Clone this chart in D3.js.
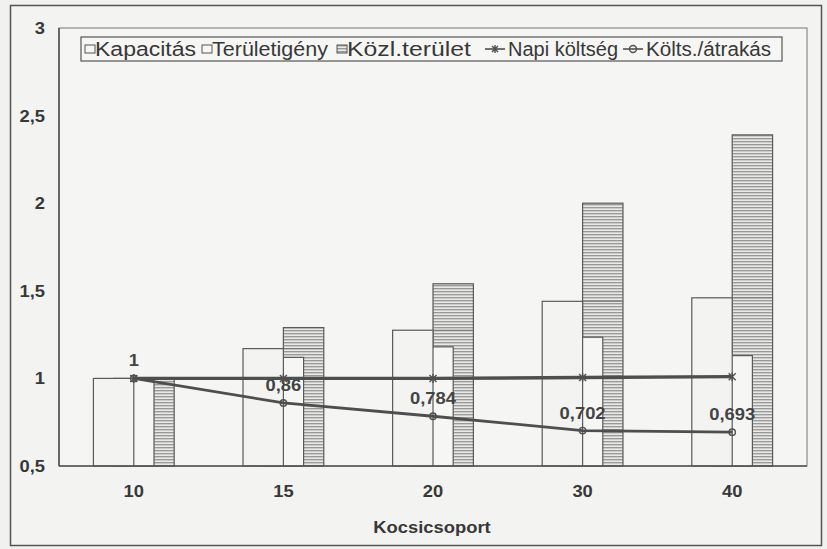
<!DOCTYPE html>
<html><head><meta charset="utf-8">
<script src="https://cdn.jsdelivr.net/npm/d3@7"></script>
<style>
html,body{margin:0;padding:0;background:#f1f1ef;}
svg{display:block;font-family:"Liberation Sans",Arial,sans-serif;}
</style></head>
<body>
<svg id="chart" width="827" height="549"></svg>
<script>
const categories = ["10", "15", "20", "30", "40"];
const kapacitas = [1, 1.17, 1.275, 1.44, 1.46];
const teruletigeny = [1, 1.12, 1.18, 1.235, 1.13];
const kozlTerulet = [1, 1.29, 1.54, 2.0, 2.39];
const napiKoltseg = [1, 1, 1, 1.005, 1.01];
const koltsAtrakas = [1, 0.86, 0.784, 0.702, 0.693];
const koltsLabels = ["1", "0,86", "0,784", "0,702", "0,693"];
const yTicks = [0.5, 1, 1.5, 2, 2.5, 3];
const yTickLabels = ["0,5", "1", "1,5", "2", "2,5", "3"];
const legendNames = ["Kapacitás", "Területigény", "Közl.terület", "Napi költség", "Költs./átrakás"];
const xTitle = "Kocsicsoport";

const svg = d3.select("#chart");
const plot = {left: 59, top: 28, right: 807, bottom: 466};
const txt = "#383838", barStroke = "#5a5a5a";

const defs = svg.append("defs");
const pat = defs.append("pattern").attr("id","hatch").attr("patternUnits","userSpaceOnUse")
  .attr("width", 8).attr("height", 3);
pat.append("rect").attr("width",8).attr("height",3).attr("fill","#e9e9e8");
pat.append("line").attr("x1",0).attr("x2",8).attr("y1",0.75).attr("y2",0.75)
  .attr("stroke","#858585").attr("stroke-width",1.1);

// outer frame
svg.append("rect").attr("x",10.5).attr("y",5.5).attr("width",811).attr("height",540)
  .attr("fill","#f3f3f1").attr("stroke","#555").attr("stroke-width",1.5);

const x = d3.scaleBand().domain(categories).range([plot.left, plot.right]).padding(0);
const y = d3.scaleLinear().domain([0.5, 3]).range([plot.bottom, plot.top]);
const bw = x.bandwidth();
const barW = bw * 0.27;
const cx = c => x(c) + bw / 2;

// plot area
svg.append("rect").attr("x",plot.left).attr("y",plot.top)
  .attr("width",plot.right-plot.left).attr("height",plot.bottom-plot.top)
  .attr("fill","#f5f5f3").attr("stroke","#777").attr("stroke-width",1);

// bars: Közl behind, then Területigény, then Kapacitás
const gBars = svg.append("g");
gBars.selectAll(".kozl").data(categories).join("rect")
  .attr("x", (c) => cx(c)).attr("width", barW)
  .attr("y", (c,i) => y(kozlTerulet[i])).attr("height", (c,i) => y(0.5) - y(kozlTerulet[i]))
  .attr("fill","url(#hatch)").attr("stroke",barStroke).attr("stroke-width",1.2);
gBars.selectAll(".kedge").data(categories).join("line")
  .attr("x1", c => cx(c)).attr("x2", c => cx(c) + barW)
  .attr("y1", (c,i) => y(kapacitas[i])).attr("y2", (c,i) => y(kapacitas[i]))
  .attr("stroke","#777").attr("stroke-width",1);
gBars.selectAll(".ter").data(categories).join("rect")
  .attr("x", c => cx(c) - barW/2).attr("width", barW)
  .attr("y", (c,i) => y(teruletigeny[i])).attr("height", (c,i) => y(0.5) - y(teruletigeny[i]))
  .attr("fill","#f6f6f5").attr("stroke",barStroke).attr("stroke-width",1.2);
gBars.selectAll(".kap").data(categories).join("rect")
  .attr("x", c => cx(c) - barW).attr("width", barW)
  .attr("y", (c,i) => y(kapacitas[i])).attr("height", (c,i) => y(0.5) - y(kapacitas[i]))
  .attr("fill","#f3f3f2").attr("stroke",barStroke).attr("stroke-width",1.2);

// lines
const line = d3.line().x(d => cx(d.c)).y(d => y(d.v));
const napiData = categories.map((c,i) => ({c, v: napiKoltseg[i]}));
const koltsData = categories.map((c,i) => ({c, v: koltsAtrakas[i]}));

// data labels (under the lines)
const stretchT = [];
svg.append("g").selectAll("text").data(koltsData).join("text")
  .attr("x", d => cx(d.c)).attr("y", d => y(d.v) - 12)
  .attr("text-anchor","middle").attr("font-size",17).attr("font-weight","bold")
  .attr("fill","#444").text((d,i) => koltsLabels[i])
  .each(function(){ stretchT.push(this); });

svg.append("path").datum(napiData).attr("d", line).attr("fill","none")
  .attr("stroke","#4e4e4e").attr("stroke-width",3.4);
svg.append("path").datum(koltsData).attr("d", line).attr("fill","none")
  .attr("stroke","#4e4e4e").attr("stroke-width",2.8);

function starMarker(g, px, py, s) {
  g.append("path").attr("d",`M${px-s},${py-s}L${px+s},${py+s}M${px-s},${py+s}L${px+s},${py-s}M${px},${py-s-1}L${px},${py+s+1}`)
    .attr("stroke","#505050").attr("stroke-width",1.4).attr("fill","none");
}
function circMarker(g, px, py, r) {
  g.append("circle").attr("cx",px).attr("cy",py).attr("r",r)
    .attr("fill","none").attr("stroke","#505050").attr("stroke-width",1.4);
}
const gm = svg.append("g");
napiData.forEach(d => starMarker(gm, cx(d.c), y(d.v), 3.5));
koltsData.forEach(d => circMarker(gm, cx(d.c), y(d.v), 3.2));

// axes
svg.append("line").attr("x1",plot.left).attr("x2",plot.left).attr("y1",plot.top).attr("y2",plot.bottom)
  .attr("stroke","#555").attr("stroke-width",1.6);
svg.append("line").attr("x1",plot.left).attr("x2",plot.right).attr("y1",plot.bottom).attr("y2",plot.bottom)
  .attr("stroke","#555").attr("stroke-width",1.6);

const yAxis = d3.axisLeft(y).tickValues(yTicks).tickSize(0).tickPadding(14)
  .tickFormat((d,i) => yTickLabels[i]);
const gy = svg.append("g").attr("transform",`translate(${plot.left},0)`).call(yAxis);
gy.select(".domain").remove();
gy.selectAll("text").attr("font-size",17).attr("font-weight","bold").attr("fill",txt)
  .attr("font-family","'Liberation Sans',Arial,sans-serif").each(function(){ stretchT.push(this); });

const xAxis = d3.axisBottom(x).tickSize(0).tickPadding(19);
const gx = svg.append("g").attr("transform",`translate(0,${plot.bottom})`).call(xAxis);
gx.select(".domain").remove();
gx.selectAll("text").attr("font-size",17).attr("font-weight","bold").attr("fill",txt)
  .attr("font-family","'Liberation Sans',Arial,sans-serif").each(function(){ stretchT.push(this); });

svg.append("text").attr("x", (plot.left+plot.right)/2 - 1).attr("y", 533)
  .attr("text-anchor","middle").attr("font-size",17).attr("font-weight","bold").attr("fill",txt)
  .text(xTitle).each(function(){ stretchT.push(this); });

// legend
const lg = svg.append("g");
lg.append("rect").attr("x",81).attr("y",37).attr("width",701).attr("height",24)
  .attr("fill","#f6f6f4").attr("stroke","#555").attr("stroke-width",1.2);
const legX = [85, 202, 337, 485, 623];
const legTextW = [101, 116, 124, 110, 125];
const ly = 49;
legendNames.forEach((name, i) => {
  const lx = legX[i];
  let tx;
  if (i < 3) {
    lg.append("rect").attr("x",lx).attr("y",ly-4).attr("width",10).attr("height",8)
      .attr("fill", i === 2 ? "url(#hatch)" : "#f6f6f5").attr("stroke","#555").attr("stroke-width",1);
    tx = lx + 10;
  } else {
    lg.append("line").attr("x1",lx).attr("x2",lx+20).attr("y1",ly).attr("y2",ly)
      .attr("stroke","#505050").attr("stroke-width",1.6);
    if (i === 3) starMarker(lg, lx+10, ly, 3); else circMarker(lg, lx+10, ly, 3.5);
    tx = lx + 23;
  }
  lg.append("text").attr("x",tx).attr("y",ly+7).attr("font-size",19.5).attr("fill",txt)
    .attr("textLength", legTextW[i]).attr("lengthAdjust","spacingAndGlyphs").text(name);
});

stretchT.forEach(n => {
  const L = n.getComputedTextLength();
  n.setAttribute("textLength", (L * 1.08).toFixed(1));
  n.setAttribute("lengthAdjust", "spacingAndGlyphs");
});
</script>
</body></html>
